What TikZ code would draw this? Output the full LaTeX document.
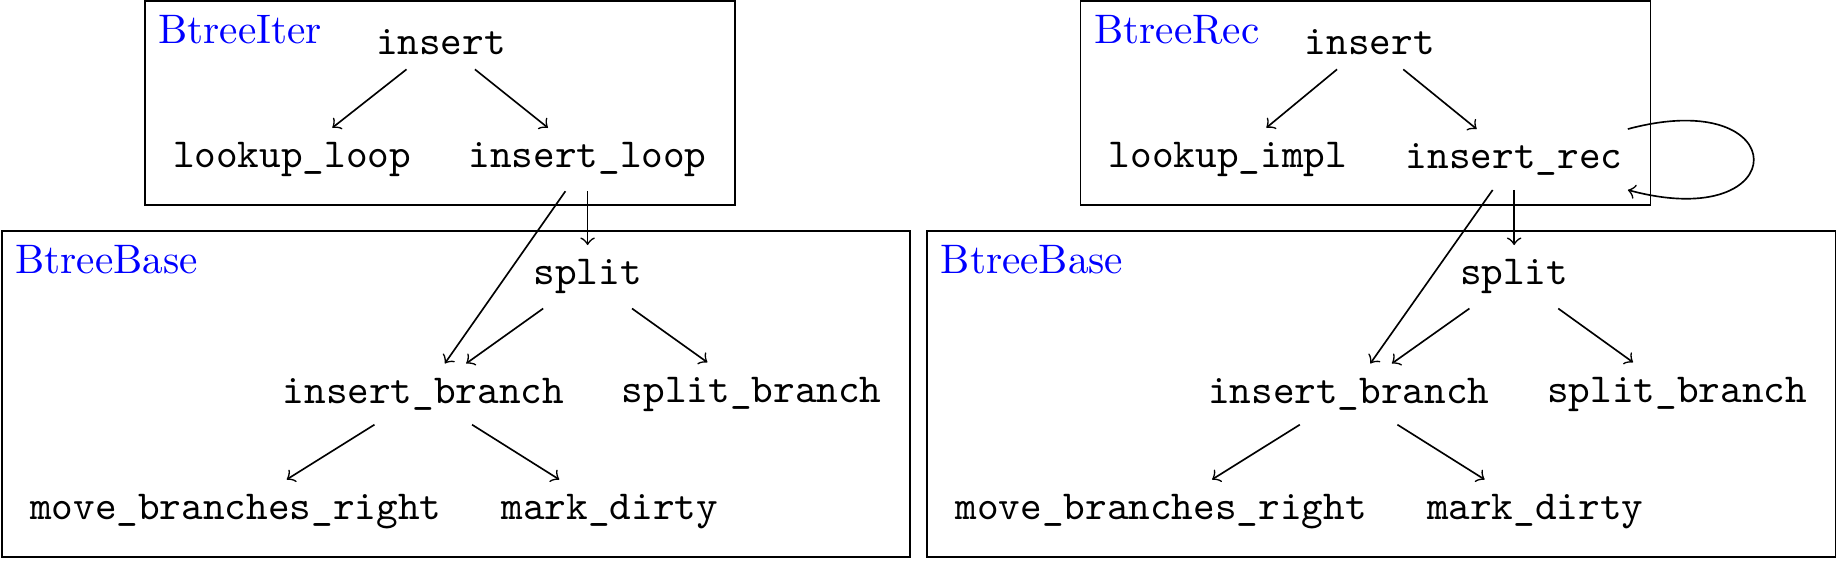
\documentclass[tikz,border=0pt]{standalone}
\usepackage{amsmath, amssymb}
\usepackage{xcolor}
\usepackage{tikz}
\usetikzlibrary{fit}

\begin{document}
\begin{tikzpicture}[
  fn/.style={font=\ttfamily},
  grp/.style={draw},
  grplabel/.style={blue, anchor=north west},
  call/.style={->}
]
\useasboundingbox (0,0.36) rectangle (15.68,-4.423);

\node[fn] (iterins) at (3.76, 0) {insert};
\node[fn] (lookuploop) at (2.49, -1) {lookup\_loop};
\node[fn] (insertloop) at (5.01, -1) {insert\_loop};

\node[fn] (lsplit) at (5.01, -2) {split};
\node[fn] (linsbranch) at (3.61, -3) {insert\_branch};
\node[fn] (lsplitbranch) at (6.41, -3) {split\_branch};
\node[fn] (lmove) at (2.01, -4) {move\_branches\_right};
\node[fn] (lmark) at (5.20, -4) {mark\_dirty};

\node[grp, fit=(iterins) (lookuploop) (insertloop)] (iterbox) {};
\node[grplabel] (iterlbl) at (iterbox.north west) {BtreeIter};
\node[grp, fit=(lsplit) (linsbranch) (lsplitbranch) (lmove) (lmark)] (lbasebox) {};
\node[grplabel] (lbaselbl) at (lbasebox.north west) {BtreeBase};

\draw[call] (iterins) -- (lookuploop);
\draw[call] (iterins) -- (insertloop);
\draw[call] (insertloop) -- (lsplit);
\draw[call] (insertloop) -- (linsbranch);
\draw[call] (lsplit) -- (linsbranch);
\draw[call] (lsplit) -- (lsplitbranch);
\draw[call] (linsbranch) -- (lmove);
\draw[call] (linsbranch) -- (lmark);

\node[fn] (recins) at (11.68, 0) {insert};
\node[fn] (lookupimpl) at (10.47, -1) {lookup\_impl};
\node[fn] (insertrec) at (12.91, -1) {insert\_rec};

\node[fn] (rsplit) at (12.91, -2) {split};
\node[fn] (rinsbranch) at (11.50, -3) {insert\_branch};
\node[fn] (rsplitbranch) at (14.30, -3) {split\_branch};
\node[fn] (rmove) at (9.90, -4) {move\_branches\_right};
\node[fn] (rmark) at (13.09, -4) {mark\_dirty};

\node[grp, fit=(recins) (lookupimpl) (insertrec)] (recbox) {};
\node[grplabel] (reclbl) at (recbox.north west) {BtreeRec};
\node[grp, fit=(rsplit) (rinsbranch) (rsplitbranch) (rmove) (rmark)] (rbasebox) {};
\node[grplabel] (rbaselbl) at (rbasebox.north west) {BtreeBase};

\draw[call] (recins) -- (lookupimpl);
\draw[call] (recins) -- (insertrec);
\draw[call] (insertrec) to[loop right, looseness=7.3] (insertrec);
\draw[call] (insertrec) -- (rsplit);
\draw[call] (insertrec) -- (rinsbranch);
\draw[call] (rsplit) -- (rinsbranch);
\draw[call] (rsplit) -- (rsplitbranch);
\draw[call] (rinsbranch) -- (rmove);
\draw[call] (rinsbranch) -- (rmark);
\end{tikzpicture}
\end{document}
